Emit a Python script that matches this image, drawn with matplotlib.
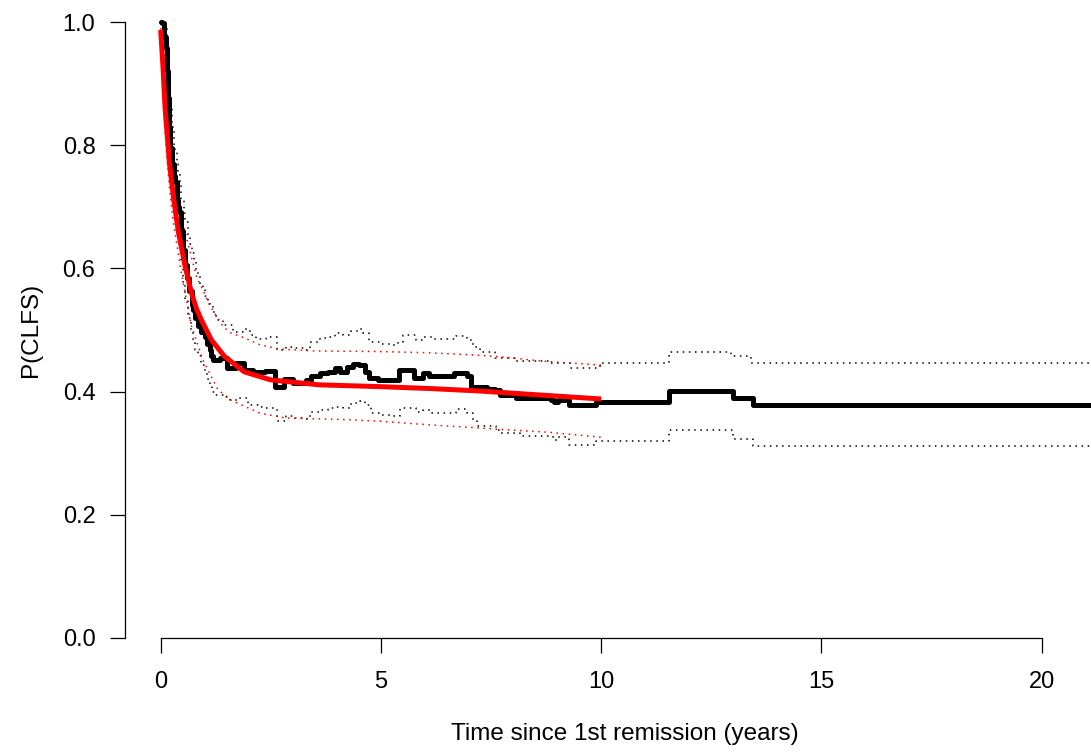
import matplotlib
matplotlib.use('Agg')
import matplotlib.pyplot as plt

plt.rcParams['font.family'] = ['Liberation Sans', 'DejaVu Sans']

# Kaplan-Meier estimate (black step curve) and its pointwise CI
km_time = [0, 0.04, 0.08, 0.11, 0.14, 0.17, 0.2, 0.22, 0.26, 0.3, 0.32, 0.36, 0.39,
           0.415, 0.45, 0.5, 0.55, 0.6, 0.65, 0.7, 0.73, 0.79, 0.85, 0.92, 1.0, 1.05,
           1.11, 1.15, 1.19, 1.34, 1.5, 1.7, 1.9, 2.1, 2.36, 2.6, 2.81, 3.0, 3.31,
           3.42, 3.61, 3.8, 3.95, 4.06, 4.22, 4.36, 4.5, 4.63, 4.74, 4.93, 5.4,
           5.76, 5.95, 6.1, 6.65, 6.95, 7.05, 7.4, 7.6, 7.7, 8.07, 8.87, 8.94,
           9.01, 9.17, 9.28, 9.89, 11.55, 12.99, 13.45, 21.3]
km_surv = [1.0, 0.998, 0.975, 0.958, 0.92, 0.876, 0.83, 0.795, 0.77, 0.75, 0.741, 0.711, 0.70,
           0.692, 0.66, 0.63, 0.605, 0.585, 0.563, 0.54, 0.532, 0.52, 0.506, 0.497, 0.489, 0.478,
           0.467, 0.458, 0.451, 0.454, 0.438, 0.446, 0.435, 0.432, 0.433, 0.408, 0.42, 0.414, 0.419,
           0.425, 0.43, 0.432, 0.438, 0.432, 0.44, 0.445, 0.443, 0.432, 0.422, 0.419, 0.435,
           0.422, 0.43, 0.425, 0.43, 0.425, 0.408, 0.405, 0.403, 0.394, 0.39, 0.386, 0.383,
           0.386, 0.388, 0.378, 0.383, 0.401, 0.39, 0.378, 0.378]

km_up_time = [0, 0.05, 0.1, 0.14, 0.17, 0.2, 0.22, 0.26, 0.3, 0.32, 0.36, 0.39, 0.43,
              0.47, 0.52, 0.56, 0.61, 0.66, 0.7, 0.75, 0.8, 0.85, 0.9, 0.95, 1.0, 1.07,
              1.12, 1.18, 1.24, 1.3, 1.42, 1.64, 1.87, 2.02, 2.17, 2.4, 2.63, 2.85, 3.0,
              3.27, 3.38, 3.61, 3.8, 3.95, 4.13, 4.33, 4.47, 4.59, 4.74, 4.97, 5.2, 5.38,
              5.49, 5.8, 5.95, 6.17, 6.71, 6.95, 7.08, 7.24, 7.6, 8.07, 8.87, 9.3, 9.97,
              11.55, 12.95, 13.4, 21.3]
km_up = [1.0, 1.0, 0.99, 0.965, 0.93, 0.89, 0.86, 0.83, 0.80, 0.79, 0.77, 0.755, 0.735,
         0.711, 0.69, 0.675, 0.655, 0.64, 0.625, 0.61, 0.598, 0.587, 0.575, 0.565, 0.556, 0.549,
         0.54, 0.53, 0.522, 0.516, 0.508, 0.497, 0.502, 0.492, 0.485, 0.488, 0.467, 0.473, 0.47,
         0.467, 0.481, 0.487, 0.489, 0.495, 0.492, 0.499, 0.501, 0.495, 0.481, 0.477, 0.476, 0.481,
         0.492, 0.484, 0.489, 0.485, 0.49, 0.484, 0.473, 0.465, 0.455, 0.45, 0.446, 0.439, 0.446,
         0.465, 0.457, 0.447, 0.447]

km_lo_time = [0, 0.05, 0.1, 0.14, 0.17, 0.2, 0.22, 0.26, 0.3, 0.32, 0.36, 0.415, 0.45,
              0.5, 0.55, 0.62, 0.68, 0.73, 0.79, 0.85, 0.92, 1.0, 1.05, 1.11, 1.17, 1.23,
              1.42, 1.57, 1.75, 1.98, 2.2, 2.4, 2.63, 2.85, 3.04, 3.22, 3.38, 3.61, 3.8,
              3.95, 4.13, 4.33, 4.52, 4.63, 4.78, 4.97, 5.2, 5.43, 5.8, 5.95, 6.17, 6.71,
              6.95, 7.08, 7.17, 7.62, 7.7, 8.15, 8.9, 9.0, 9.28, 9.89, 11.55, 12.99,
              13.45, 21.3]
km_lo = [1.0, 0.99, 0.92, 0.87, 0.83, 0.78, 0.745, 0.72, 0.70, 0.69, 0.665, 0.64, 0.61,
         0.575, 0.55, 0.52, 0.5, 0.48, 0.468, 0.457, 0.443, 0.43, 0.42, 0.41, 0.40, 0.394,
         0.392, 0.386, 0.39, 0.378, 0.375, 0.373, 0.353, 0.36, 0.357, 0.356, 0.367, 0.37, 0.373,
         0.375, 0.373, 0.381, 0.385, 0.378, 0.365, 0.362, 0.36, 0.373, 0.367, 0.37, 0.366, 0.372,
         0.365, 0.354, 0.344, 0.338, 0.333, 0.328, 0.321, 0.327, 0.313, 0.319, 0.338, 0.323,
         0.311, 0.311]

# fitted parametric (cure) model, red, with CI
fit_time = [0, 0.05, 0.1, 0.2, 0.3, 0.4, 0.55, 0.7, 0.81, 0.92, 1.15, 1.45, 1.9, 2.5,
            3.6, 5.0, 6.1, 7.24, 8.5, 10.0]
fit_surv = [0.987, 0.93, 0.86, 0.77, 0.71, 0.66, 0.605, 0.56, 0.535, 0.517, 0.484, 0.457,
            0.432, 0.419, 0.411, 0.408, 0.405, 0.401, 0.395, 0.388]

fit_up_time = [0, 0.1, 0.2, 0.3, 0.4, 0.55, 0.81, 0.92, 1.11, 1.23, 1.42, 1.6, 1.91, 2.25,
               2.7, 3.5, 5.0, 6.1, 7.24, 7.62, 8.76, 10.0]
fit_up = [0.99, 0.90, 0.81, 0.75, 0.70, 0.66, 0.587, 0.571, 0.54, 0.527, 0.505, 0.495, 0.487,
          0.476, 0.469, 0.466, 0.465, 0.463, 0.459, 0.457, 0.449, 0.443]

fit_lo_time = [0, 0.1, 0.2, 0.28, 0.47, 0.7, 0.96, 1.3, 1.6, 2.25, 2.85, 4.0, 4.97, 6.1,
               7.24, 7.62, 8.8, 10.0]
fit_lo = [0.98, 0.82, 0.73, 0.678, 0.592, 0.506, 0.451, 0.403, 0.386, 0.365, 0.357, 0.355,
          0.352, 0.346, 0.341, 0.339, 0.334, 0.326]

x_ticks = [0, 5, 10, 15, 20]
y_ticks = [0.0, 0.2, 0.4, 0.6, 0.8, 1.0]

fig = plt.figure(figsize=(10.91, 7.56), dpi=100)
ax = fig.add_axes([125 / 1091, 118 / 756, 966 / 1091, 616 / 756])

dot = (0, (1, 3))
ax.step(km_up_time, km_up, where='post', color='black', lw=1.1, ls=dot, clip_on=False)
ax.step(km_lo_time, km_lo, where='post', color='black', lw=1.1, ls=dot, clip_on=False)
ax.plot(fit_up_time, fit_up, color='red', lw=1.1, ls=dot, clip_on=False)
ax.plot(fit_lo_time, fit_lo, color='red', lw=1.1, ls=dot, clip_on=False)
ax.step(km_time, km_surv, where='post', color='black', lw=3.6, clip_on=False,
        solid_capstyle='round', solid_joinstyle='round')
ax.plot(fit_time, fit_surv, color='red', lw=3.6, clip_on=False, solid_capstyle='butt')

ax.set_xlim(-0.81, 21.12)
ax.set_ylim(0, 1)

for s in ['top', 'right']:
    ax.spines[s].set_visible(False)
ax.spines['left'].set_bounds(0, 1)
ax.spines['bottom'].set_bounds(0, 20)
ax.spines['left'].set_linewidth(0.9)
ax.spines['bottom'].set_linewidth(0.9)

ax.set_xticks(x_ticks)
ax.set_xticklabels([str(v) for v in x_ticks])
ax.set_yticks(y_ticks)
ax.set_yticklabels(['%.1f' % v for v in y_ticks])
ax.tick_params(axis='both', length=10.8, width=0.9, labelsize=17)
ax.tick_params(axis='x', pad=13)
ax.tick_params(axis='y', pad=10.5)

# R centres the x label on the full plot region, which runs past the right edge
ax.set_xlabel('Time since 1st remission (years)', fontsize=17.5, labelpad=21.5, x=0.5176)
ax.set_ylabel('P(CLFS)', fontsize=17.5, labelpad=15)

fig.savefig('out.png', dpi=100)
